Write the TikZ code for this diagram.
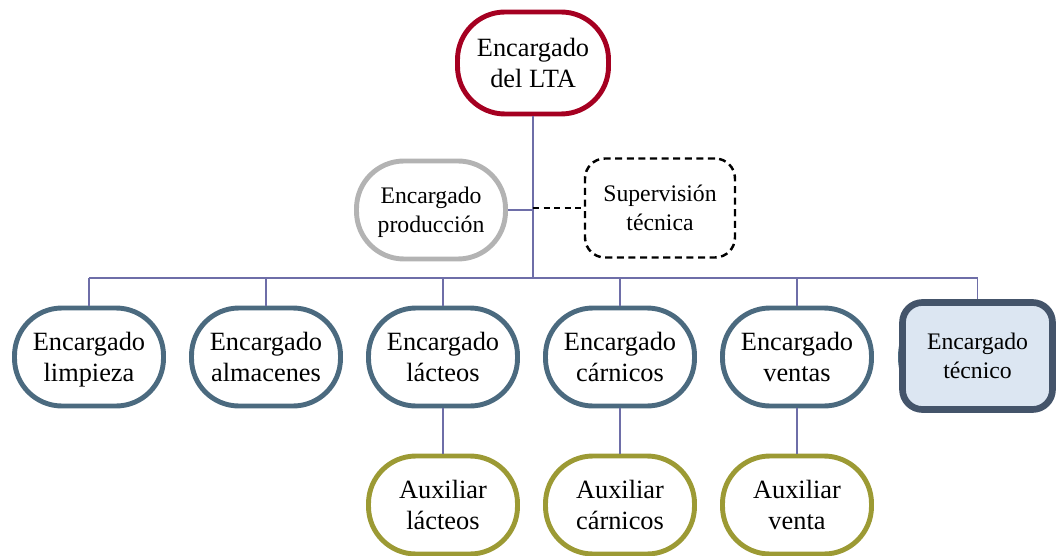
\documentclass[tikz,border=0pt]{standalone}
\usepackage{fontspec}
\setmainfont{Liberation Serif}
\usetikzlibrary{positioning}

\definecolor{rojolta}{HTML}{A50021}
\definecolor{grisprod}{HTML}{B3B3B3}
\definecolor{azulpuesto}{HTML}{4B6A7F}
\definecolor{olivaaux}{HTML}{9C9A34}
\definecolor{azultec}{HTML}{44546A}
\definecolor{fondotec}{HTML}{DCE6F2}
\definecolor{lineaorg}{HTML}{6E6EA8}

\begin{document}
\begin{tikzpicture}[
    puesto/.style={draw=azulpuesto, line width=2.8pt, rounded corners=0.95cm,
      minimum width=2.98cm, minimum height=1.96cm, align=center, text depth=0pt,
      font=\fontsize{15}{18}\selectfont},
    jefe/.style={puesto, draw=rojolta, minimum width=3.02cm, minimum height=2.04cm},
    produccion/.style={puesto, draw=grisprod, font=\fontsize{13.5}{16.5}\selectfont},
    apoyo/.style={draw, dash pattern=on 4pt off 2.6pt, line width=1.4pt, rounded corners=0.4cm,
      minimum width=3.0cm, minimum height=1.98cm, align=center,
      font=\fontsize{13.5}{16.5}\selectfont},
    auxiliar/.style={puesto, draw=olivaaux},
    tecnico/.style={draw=azultec, fill=fondotec, line width=3.8pt, rounded corners=0.4cm,
      minimum width=3.0cm, minimum height=2.14cm, align=center,
      font=\fontsize{13.5}{16.5}\selectfont},
    linea/.style={draw=lineaorg, line width=1.1pt}
  ]
  \useasboundingbox (0,0) rectangle (21.16,-11.12);

  % cabeza y staff
  \node[jefe] (lta) at (10.66,-1.26) {Encargado\\del LTA};
  \node[produccion] (prod) at (8.62,-4.2) {Encargado\\producción};
  \node[apoyo] (superv) at (13.2,-4.16) {Supervisión\\técnica};

  % segundo nivel
  \node[puesto] (limpieza) at (1.78,-7.14) {Encargado\\limpieza};
  \node[puesto] (almacenes) at (5.32,-7.14) {Encargado\\almacenes};
  \node[puesto] (lacteos) at (8.86,-7.14) {Encargado\\lácteos};
  \node[puesto] (carnicos) at (12.4,-7.14) {Encargado\\cárnicos};
  \node[puesto] (ventas) at (15.94,-7.14) {Encargado\\ventas};
  \node[puesto] (tecfondo) at (19.5,-7.14) {};
  \node[tecnico] (tecnico) at (19.55,-7.12) {Encargado\\técnico};

  % auxiliares
  \node[auxiliar] (auxlacteos) at (8.86,-10.1) {Auxiliar\\lácteos};
  \node[auxiliar] (auxcarnicos) at (12.4,-10.1) {Auxiliar\\cárnicos};
  \node[auxiliar] (auxventas) at (15.94,-10.1) {Auxiliar\\venta};

  % lineas de mando
  \coordinate (bus) at (0,-5.56);
  \draw[linea] (lta) -- (lta |- bus);
  \draw[linea] (prod) -- (prod -| lta);
  \draw[linea, draw=black, dash pattern=on 3.5pt off 2.5pt, line width=1pt] (superv -| lta) -- (superv);
  \draw[linea] (limpieza |- bus) -- (tecnico |- bus);
  \foreach \n in {limpieza, almacenes, lacteos, carnicos, ventas, tecnico}
    \draw[linea] (\n |- bus) -- (\n);
  \draw[linea] (lacteos) -- (auxlacteos);
  \draw[linea] (carnicos) -- (auxcarnicos);
  \draw[linea] (ventas) -- (auxventas);
\end{tikzpicture}
\end{document}
